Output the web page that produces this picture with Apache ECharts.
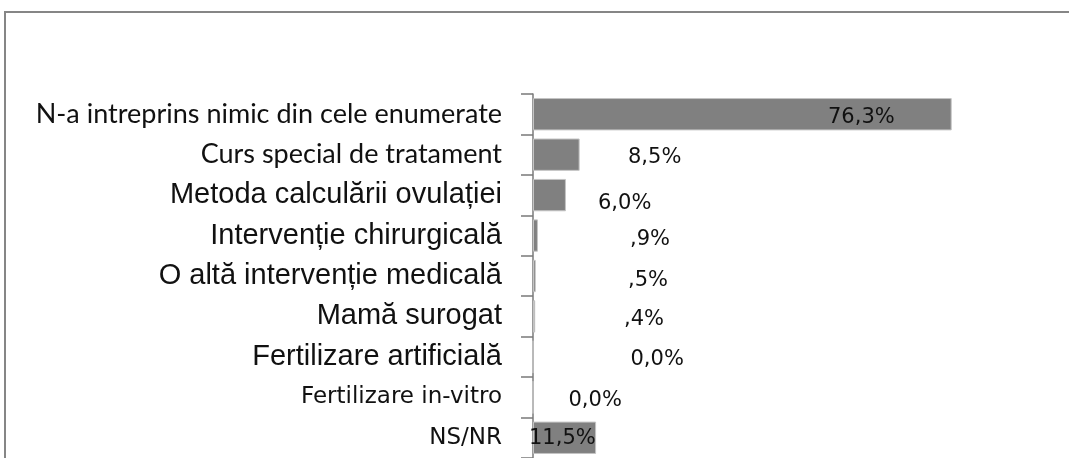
<!DOCTYPE html>
<html>
<head>
<meta charset="utf-8">
<style>
  html, body { margin: 0; padding: 0; background: #fff; }
  #chart { width: 1069px; height: 458px; }
</style>
<script src="https://cdn.jsdelivr.net/npm/echarts@6/dist/echarts.min.js"></script>
</head>
<body>
<div id="chart"></div>
<script>
// categorii si valori (%)
var categories = [
    'N-a intreprins nimic din cele enumerate',
    'Curs special de tratament',
    'Metoda calculării ovulației',
    'Intervenție chirurgicală',
    'O altă intervenție medicală',
    'Mamă surogat',
    'Fertilizare artificială',
    'Fertilizare in-vitro',
    'NS/NR'
];
var values = [76.3, 8.5, 6.0, 0.9, 0.5, 0.4, 0.0, 0.0, 11.5];

// stil eticheta pe fiecare rand (fonturi amestecate ca in original)
var labelFont = ['cal', 'cal', 'ari', 'ari', 'ari', 'ari', 'ari', 'dv', 'dv'];
// deplasarea etichetelor de valoare fata de inceputul barei
var labelShift = [
    [295, 3], [95, 3], [65, 8], [97, 4], [95, 5],
    [91, 3], [98, 3], [36, 3], [-4, 1]
];

var chartDom = document.getElementById('chart');
var myChart = echarts.init(chartDom);

var seriesData = values.map(function (v, i) {
    return {
        value: v,
        label: {
            offset: labelShift[i]
        }
    };
});

var option = {
    animation: false,
    graphic: [
        {
            type: 'rect',
            shape: { x: 5, y: 12, width: 1200, height: 600 },
            style: { fill: 'none', stroke: '#868686', lineWidth: 2 },
            silent: true
        }
    ],
    grid: {
        left: 533,
        top: 94,
        width: 439,
        height: 365
    },
    xAxis: {
        type: 'value',
        min: 0,
        max: 80,
        show: false
    },
    yAxis: {
        type: 'category',
        inverse: true,
        data: categories,
        axisLine: {
            show: true,
            lineStyle: { color: '#7a7a7a', width: 1.5 }
        },
        axisTick: {
            show: true,
            length: 12,
            lineStyle: { color: '#7a7a7a', width: 1.5 }
        },
        axisLabel: {
            margin: 31,
            formatter: function (val, idx) {
                return '{' + labelFont[idx] + '|' + val + '}';
            },
            rich: {
                cal: { fontFamily: 'Lato', fontSize: 27, color: '#111' },
                ari: { fontFamily: 'Liberation Sans', fontSize: 29, color: '#111' },
                dv: { fontFamily: 'DejaVu Sans', fontSize: 23, color: '#111' }
            }
        }
    },
    series: [
        {
            type: 'bar',
            data: seriesData,
            barCategoryGap: '20%',
            itemStyle: {
                color: '#808080',
                borderColor: '#c4c4c4',
                borderWidth: 1
            },
            label: {
                show: true,
                position: 'insideLeft',
                distance: 0,
                fontFamily: 'DejaVu Sans',
                fontSize: 21,
                color: '#111',
                formatter: function (p) {
                    var s = p.value.toFixed(1).replace('.', ',');
                    if (s.indexOf('0,') === 0 && p.value > 0) {
                        s = s.substring(1);
                    }
                    return s + '%';
                }
            }
        }
    ]
};

option && myChart.setOption(option);
</script>
</body>
</html>
